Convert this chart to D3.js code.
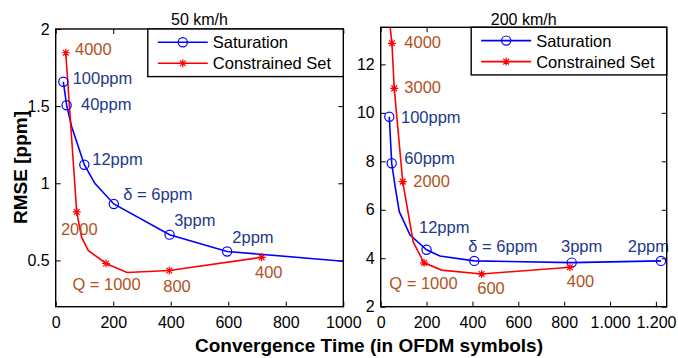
<!DOCTYPE html>
<html>
<head>
<meta charset="utf-8">
<script src="https://cdn.jsdelivr.net/npm/d3@7"></script>
<style>
  body { margin: 0; background: #fff; }
  text { font-family: "Liberation Sans", Arial, sans-serif; }
</style>
</head>
<body>
<svg id="chart" width="678" height="358"></svg>
<script>
// ---- 50 km/h ----
const leftSatMarks = [[26.5, 1.658], [38, 1.506], [99.5, 1.12], [202, 0.866], [396, 0.667], [596, 0.558]];
const leftSatBends = [[55, 1.37], [136, 1.0], [1000, 0.495]];
const leftConMarks = [[35, 1.846], [73, 0.814], [175, 0.48], [395, 0.435], [716, 0.52]];
const leftConBends = [[90, 0.651], [113, 0.565], [248, 0.422]];
const leftNotes = [
  ['4000', 67, 1.87, 'con'], ['100ppm', 59, 1.684, 'sat'], ['40ppm', 88, 1.513, 'sat'],
  ['12ppm', 127, 1.156, 'sat'], ['\u03b4 = 6ppm', 235, 0.933, 'sat'], ['3ppm', 412, 0.764, 'sat'],
  ['2ppm', 614, 0.651, 'sat'], ['2000', 18, 0.703, 'con'], ['Q = 1000', 58, 0.349, 'con'],
  ['800', 374, 0.331, 'con'], ['400', 693, 0.424, 'con']
];
const leftXTicks = [0, 200, 400, 600, 800, 1000];
const leftXLabels = ['0', '200', '400', '600', '800', '1000'];
const leftYTicks = [0.5, 1, 1.5, 2];
const leftYLabels = ['0.5', '1', '1.5', '2'];

// ---- 200 km/h ----
const rightSatMarks = [[37.5, 9.84], [48, 7.92], [200, 4.35], [408, 3.89], [833, 3.82], [1222, 3.89]];
const rightSatBends = [[62, 7.02], [81, 5.92], [128, 4.96], [258, 4.09]];
const rightConMarks = [[49, 12.87], [59, 11.01], [96, 7.16], [189, 3.81], [440, 3.35], [825, 3.63]];
const rightConBends = [[40, 13.65], [142, 4.66], [266, 3.51]];
const rightNotes = [
  ['4000', 103, 12.93, 'con'], ['3000', 103, 11.05, 'con'], ['100ppm', 88.5, 9.81, 'sat'],
  ['60ppm', 103, 8.12, 'sat'], ['2000', 142, 7.19, 'con'], ['12ppm', 167, 5.28, 'sat'],
  ['\u03b4 = 6ppm', 382, 4.52, 'sat'], ['3ppm', 786, 4.52, 'sat'], ['2ppm', 1077, 4.52, 'sat'],
  ['Q = 1000', 37.5, 2.97, 'con'], ['600', 421, 2.76, 'con'], ['400', 811, 3.06, 'con']
];
const rightXTicks = [0, 200, 400, 600, 800, 1000, 1200];
const rightXLabels = ['0', '200', '400', '600', '800', '1.000', '1.200'];
const rightYTicks = [2, 4, 6, 8, 10, 12];
const rightYLabels = ['2', '4', '6', '8', '10', '12'];

const seriesNames = ['Saturation', 'Constrained Set'];

const satColor = '#0000ff', conColor = '#ff0000';
const satText = '#22398c', conText = '#b3511d';

const svg = d3.select('#chart');

const panels = [
  {
    id: 'l', title: '50 km/h',
    x0: 55.7, x1: 343.3, y0: 29, y1: 306.7,
    xDomain: [0, 1000], yDomain: [0.2, 2],
    satMarks: leftSatMarks, satBends: leftSatBends,
    conMarks: leftConMarks, conBends: leftConBends,
    notes: leftNotes,
    xTicks: leftXTicks, xLabels: leftXLabels, yTicks: leftYTicks, yLabels: leftYLabels
  },
  {
    id: 'r', title: '200 km/h',
    x0: 380.7, x1: 666.7, y0: 27.3, y1: 306.7,
    xDomain: [0, 1247], yDomain: [2, 13.53],
    satMarks: rightSatMarks, satBends: rightSatBends,
    conMarks: rightConMarks, conBends: rightConBends,
    notes: rightNotes,
    xTicks: rightXTicks, xLabels: rightXLabels, yTicks: rightYTicks, yLabels: rightYLabels
  }
];

function star(g, cx, cy, r, color) {
  const d = r * 0.72;
  g.append('path')
   .attr('d', `M${cx - r},${cy}H${cx + r}M${cx},${cy - r}V${cy + r}` +
              `M${cx - d},${cy - d}L${cx + d},${cy + d}M${cx - d},${cy + d}L${cx + d},${cy - d}`)
   .attr('stroke', color)
   .attr('stroke-width', 1.2)
   .attr('fill', 'none');
}

panels.forEach(p => {
  const x = d3.scaleLinear().domain(p.xDomain).range([p.x0, p.x1]);
  const y = d3.scaleLinear().domain(p.yDomain).range([p.y1, p.y0]);
  const g = svg.append('g');

  g.append('clipPath').attr('id', 'clip-' + p.id)
   .append('rect')
   .attr('x', p.x0).attr('y', p.y0)
   .attr('width', p.x1 - p.x0).attr('height', p.y1 - p.y0);

  const fontTick = 16;

  // axes (ticks pointing inward on all four sides)
  const xAxis = d3.axisBottom(x).tickValues(p.xTicks)
                  .tickFormat((d, i) => p.xLabels[i])
                  .tickSize(-5).tickPadding(10);
  const xTop = d3.axisTop(x).tickValues(p.xTicks).tickFormat('').tickSize(-5);
  const yAxis = d3.axisLeft(y).tickValues(p.yTicks)
                  .tickFormat((d, i) => p.yLabels[i])
                  .tickSize(-5).tickPadding(6);
  const yRight = d3.axisRight(y).tickValues(p.yTicks).tickFormat('').tickSize(-5);

  [[xAxis, `translate(0,${p.y1})`], [xTop, `translate(0,${p.y0})`],
   [yAxis, `translate(${p.x0},0)`], [yRight, `translate(${p.x1},0)`]].forEach(([ax, tr]) => {
    const a = g.append('g').attr('transform', tr).call(ax);
    a.select('.domain').remove();
    a.selectAll('line').attr('stroke', '#000').attr('stroke-width', 1);
    a.selectAll('text').attr('font-size', fontTick).attr('fill', '#000')
     .style('font-family', '"Liberation Sans", Arial, sans-serif');
  });

  // lines
  const line = d3.line().x(d => x(d[0])).y(d => y(d[1]));
  const satLine = p.satMarks.concat(p.satBends).sort((a, b) => a[0] - b[0]);
  const conLine = p.conMarks.concat(p.conBends).sort((a, b) => a[0] - b[0]);
  const plot = g.append('g').attr('clip-path', `url(#clip-${p.id})`);

  plot.append('path').datum(satLine).attr('d', line)
      .attr('fill', 'none').attr('stroke', satColor).attr('stroke-width', 1.6);
  plot.append('path').datum(conLine).attr('d', line)
      .attr('fill', 'none').attr('stroke', conColor).attr('stroke-width', 1.6);

  plot.selectAll('circle.sat').data(p.satMarks).enter()
      .append('circle').attr('class', 'sat')
      .attr('cx', d => x(d[0])).attr('cy', d => y(d[1])).attr('r', 4.6)
      .attr('fill', 'none').attr('stroke', satColor).attr('stroke-width', 1.2);
  p.conMarks.forEach(d => star(plot, x(d[0]), y(d[1]), 4, conColor));

  // annotations
  g.selectAll('text.note').data(p.notes).enter()
   .append('text').attr('class', 'note')
   .attr('x', d => x(d[1])).attr('y', d => y(d[2])).attr('dy', '0.36em')
   .attr('font-size', 16.5)
   .attr('fill', d => d[3] === 'sat' ? satText : conText)
   .text(d => d[0]);

  // box
  g.append('rect')
   .attr('x', p.x0).attr('y', p.y0)
   .attr('width', p.x1 - p.x0).attr('height', p.y1 - p.y0)
   .attr('fill', 'none').attr('stroke', '#000').attr('stroke-width', 1.4);

  // title
  g.append('text')
   .attr('x', (p.x0 + p.x1) / 2).attr('y', 24.5)
   .attr('text-anchor', 'middle').attr('font-size', 16)
   .text(p.title);

  // legend
  const lw = 195.5, lh = 47.6;
  const lx = p.x1 - lw, ly = p.y0;
  const leg = g.append('g');
  leg.append('rect').attr('x', lx).attr('y', ly).attr('width', lw).attr('height', lh)
     .attr('fill', '#fff').attr('stroke', '#000').attr('stroke-width', 1.4);
  seriesNames.forEach((name, i) => {
    const cy = ly + 13.3 + i * 21;
    const col = i === 0 ? satColor : conColor;
    leg.append('line').attr('x1', lx + 10).attr('x2', lx + 60)
       .attr('y1', cy).attr('y2', cy).attr('stroke', col).attr('stroke-width', 1.6);
    if (i === 0) {
      leg.append('circle').attr('cx', lx + 35).attr('cy', cy).attr('r', 4.6)
         .attr('fill', 'none').attr('stroke', col).attr('stroke-width', 1.2);
    } else {
      star(leg, lx + 35, cy, 4, col);
    }
    leg.append('text').attr('x', lx + 65).attr('y', cy).attr('dy', '0.36em')
       .attr('font-size', 16.5).attr('fill', '#000').text(name);
  });
});

// axis labels
svg.append('text')
   .attr('x', 369).attr('y', 351.5)
   .attr('text-anchor', 'middle').attr('font-size', 19).attr('font-weight', 'bold')
   .text('Convergence Time (in OFDM symbols)');

svg.append('text')
   .attr('transform', 'translate(27,167.5) rotate(-90)')
   .attr('text-anchor', 'middle').attr('font-size', 19).attr('font-weight', 'bold')
   .text('RMSE [ppm]');
</script>
</body>
</html>
